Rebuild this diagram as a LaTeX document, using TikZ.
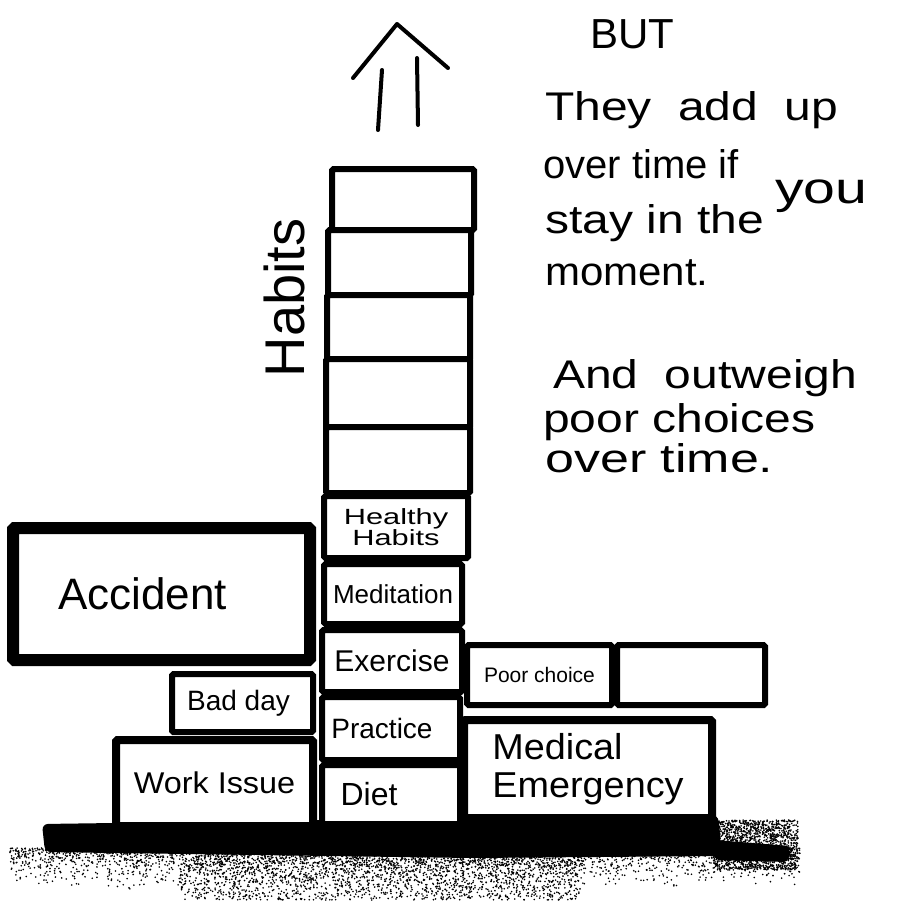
\documentclass[tikz,border=0pt]{standalone}
\usepackage{fontspec}
\setmainfont{Liberation Sans}
\newcommand\hwsize[1]{\fontsize{#1}{#1}\selectfont}
\newcommand\wsp{\hspace{0.55em}}
\newcommand\wide[1]{\scalebox{1.2}[1]{#1}}
\begin{document}
\begin{tikzpicture}[x=1pt,y=-1pt,
  brick/.style={draw=black, fill=white, line width=6pt, rounded corners=1.5pt, inner sep=0pt, align=center},
  hand/.style={inner sep=0pt, anchor=base west},
  stroke/.style={line width=4pt, line cap=round, line join=round}]
\useasboundingbox (0,0) rectangle (903,903);
\fill[white] (0,0) rectangle (903,903);

% ground speckle
\pgfmathsetseed{7}
\foreach \i in {1,...,3200}{
  \pgfmathsetmacro{\px}{10+790*rnd}
  \pgfmathsetmacro{\py}{848+42*rnd*rnd}
  \fill[black] (\px,\py) circle (0.9);
}
\foreach \i in {1,...,2000}{
  \pgfmathsetmacro{\px}{180+400*rnd}
  \pgfmathsetmacro{\py}{850+50*rnd}
  \fill[black] (\px,\py) circle (0.9);
}
\foreach \i in {1,...,1500}{
  \pgfmathsetmacro{\px}{712+86*rnd}
  \pgfmathsetmacro{\py}{820+50*rnd}
  \fill[black] (\px,\py) circle (0.9);
}
% ground band
\fill[black, rounded corners=6pt] (42,824) -- (470,818) -- (718,815) -- (722,856) -- (470,858) -- (45,852) -- cycle;
\fill[black, rounded corners=4pt] (715,840) -- (790,846) -- (788,862) -- (715,860) -- cycle;

% tower
\node[brick, minimum width=142, minimum height=61] (t1) at (403,199.5) {};
\node[brick, minimum width=143, minimum height=65] (t2) at (399.5,262.5) {};
\node[brick, minimum width=143, minimum height=64] (t3) at (398.5,327) {};
\node[brick, minimum width=144, minimum height=68] (t4) at (398,393) {};
\node[brick, minimum width=144, minimum height=66] (t5) at (398,460) {};
\node[brick, minimum width=144, minimum height=62, font={\fontsize{22}{21}\selectfont}] (hh) at (396,527) {\scalebox{1.4}[1]{Healthy}\\\scalebox{1.4}[1]{Habits}};
\node[brick, minimum width=138, minimum height=60, font=\hwsize{26}] (med) at (393,594) {Meditation};
\node[brick, minimum width=140, minimum height=62, font=\hwsize{30}] (exe) at (392,661) {Exercise};
\node[brick, minimum width=138, minimum height=63, font=\hwsize{28}] (pra) at (391,728.5) {Practice\hspace*{18pt}};
\node[brick, minimum width=138, minimum height=59, font=\hwsize{32}] (diet) at (391,794.5) {Diet\hspace*{44pt}};

% left bricks
\node[brick, line width=12pt, minimum width=297, minimum height=132, font=\hwsize{44}] (acc) at (161.5,594) {Accident\hspace*{38pt}};
\node[brick, minimum width=141, minimum height=58, font=\hwsize{28}] (bad) at (242.5,703) {Bad day\hspace*{8pt}};
\node[brick, line width=8pt, minimum width=197, minimum height=86, font=\hwsize{30}] (work) at (214.5,783) {\scalebox{1.08}[1]{Work Issue}};

% right bricks
\node[brick, minimum width=145, minimum height=60, font=\hwsize{21}] (poor) at (539.5,675) {Poor choice};
\node[brick, minimum width=148, minimum height=60] (empty) at (691,675) {};
\node[brick, line width=8pt, minimum width=248, minimum height=98, font={\fontsize{36}{38}\selectfont}, align=left] (medem) at (588,769) {\scalebox{1.05}[1]{Medical}\\\scalebox{1.05}[1]{Emergency}};

% Habits label
\node[inner sep=0pt, rotate=90, anchor=base, font=\hwsize{56}] (habits) at (304,298) {Habits};

% up arrow
\coordinate (al) at (353,78);
\coordinate (apex) at (397,24);
\coordinate (ar) at (448,68);
\coordinate (l1a) at (382,70);
\coordinate (l1b) at (378,130);
\coordinate (l2a) at (417,58);
\coordinate (l2b) at (418,125);
\draw[stroke] (al) -- (apex) -- (ar);
\draw[stroke] (l1a) -- (l1b);
\draw[stroke] (l2a) -- (l2b);

% right text
\node[inner sep=0pt, anchor=base, font=\hwsize{42}] (but) at (632,48) {BUT};
\node[hand, font=\hwsize{40}] (ln1) at (545,120) {\wide{They\wsp add\wsp up}};
\node[hand, font=\hwsize{40}] (ln2) at (543,178) {over time if};
\node[hand, font=\hwsize{44}] (ln2b) at (775,203) {\scalebox{1.3}[1]{you}};
\node[hand, font=\hwsize{40}] (ln3) at (545,233) {\wide{stay in the}};
\node[hand, font=\hwsize{40}] (ln4) at (545,285) {\scalebox{1.05}[1]{moment.}};
\node[hand, font=\hwsize{40}] (ln5) at (553,388) {\wide{And\wsp outweigh}};
\node[hand, font=\hwsize{40}] (ln6) at (543,432) {\wide{poor choices}};
\node[hand, font=\hwsize{40}] (ln7) at (545,472) {\scalebox{1.3}[1]{over time.}};
\end{tikzpicture}
\end{document}
